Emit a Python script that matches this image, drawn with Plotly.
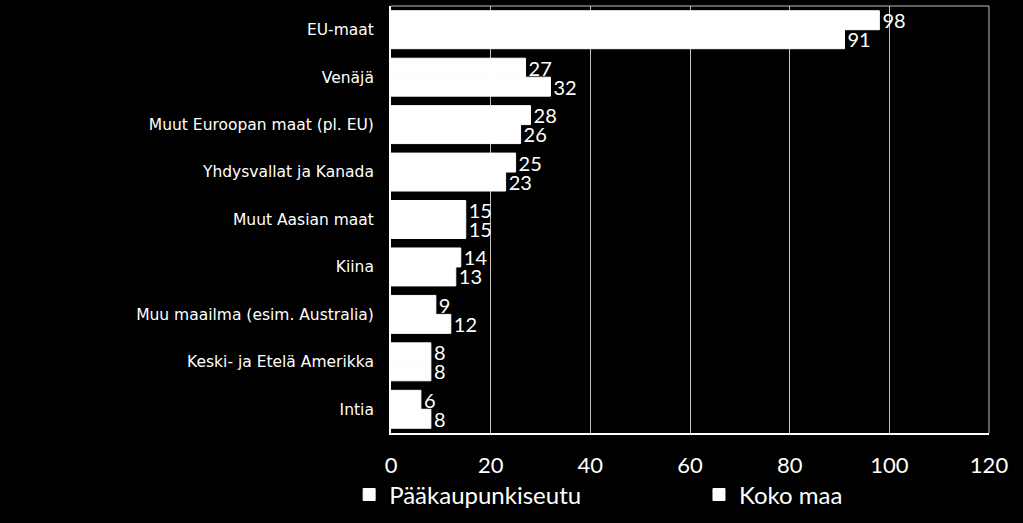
import plotly.graph_objects as go

categories = [
    "EU-maat",
    "Venäjä",
    "Muut Euroopan maat (pl. EU)",
    "Yhdysvallat ja Kanada",
    "Muut Aasian maat",
    "Kiina",
    "Muu maailma (esim. Australia)",
    "Keski- ja Etelä Amerikka",
    "Intia",
]
paakaupunkiseutu = [98, 27, 28, 25, 15, 14, 9, 8, 6]
koko_maa = [91, 32, 26, 23, 15, 13, 12, 8, 8]

num_font = "Lato, sans-serif"
label_font = "DejaVu Sans, sans-serif"

fig = go.Figure()
series = [
    ("Pääkaupunkiseutu", paakaupunkiseutu, "legend"),
    ("Koko maa", koko_maa, "legend2"),
]
for name, vals, leg in series:
    fig.add_trace(go.Bar(
        y=categories,
        x=vals,
        name=name,
        legend=leg,
        showlegend=True,
        orientation="h",
        marker=dict(color="white", line=dict(color="white", width=1)),
        text=[str(v) for v in vals],
        textposition="outside",
        constraintext="none",
        textfont=dict(color="white", size=20, family=num_font),
        cliponaxis=False,
    ))

legend_style = dict(
    orientation="h",
    yanchor="middle",
    xanchor="left",
    y=-0.145,
    font=dict(size=24, color="white", family=num_font),
    itemclick=False,
    bgcolor="rgba(0,0,0,0)",
)

fig.update_layout(
    width=1023,
    height=523,
    showlegend=True,
    paper_bgcolor="black",
    plot_bgcolor="black",
    barmode="group",
    bargap=0.2,
    bargroupgap=0,
    margin=dict(l=391, r=34, t=6, b=90, autoexpand=False),
    font=dict(family=num_font, color="white"),
    legend=dict(legend_style, x=-0.07),
    legend2=dict(legend_style, x=0.515),
    shapes=[
        dict(type="line", xref="paper", yref="paper", x0=0, x1=1, y0=1, y1=1,
             line=dict(color="#bfbfbf", width=1)),
        dict(type="line", xref="paper", yref="paper", x0=1, x1=1, y0=0, y1=1,
             line=dict(color="#bfbfbf", width=1)),
    ],
)
fig.update_xaxes(
    range=[0, 120],
    dtick=20,
    showgrid=True,
    gridcolor="#bfbfbf",
    gridwidth=1,
    zeroline=False,
    showline=True,
    linecolor="white",
    linewidth=2,
    tickfont=dict(size=22, color="white", family=num_font),
    ticks="outside",
    ticklen=12,
    tickcolor="black",
)
fig.update_yaxes(
    autorange="reversed",
    showline=True,
    linecolor="white",
    linewidth=2,
    showgrid=False,
    tickfont=dict(size=15.5, color="white", family=label_font),
    ticks="outside",
    ticklen=12,
    tickcolor="black",
)

fig.write_html(
    "out.html",
    config={"displayModeBar": False},
    post_script="document.body.style.margin='0';document.body.style.background='black';",
)
